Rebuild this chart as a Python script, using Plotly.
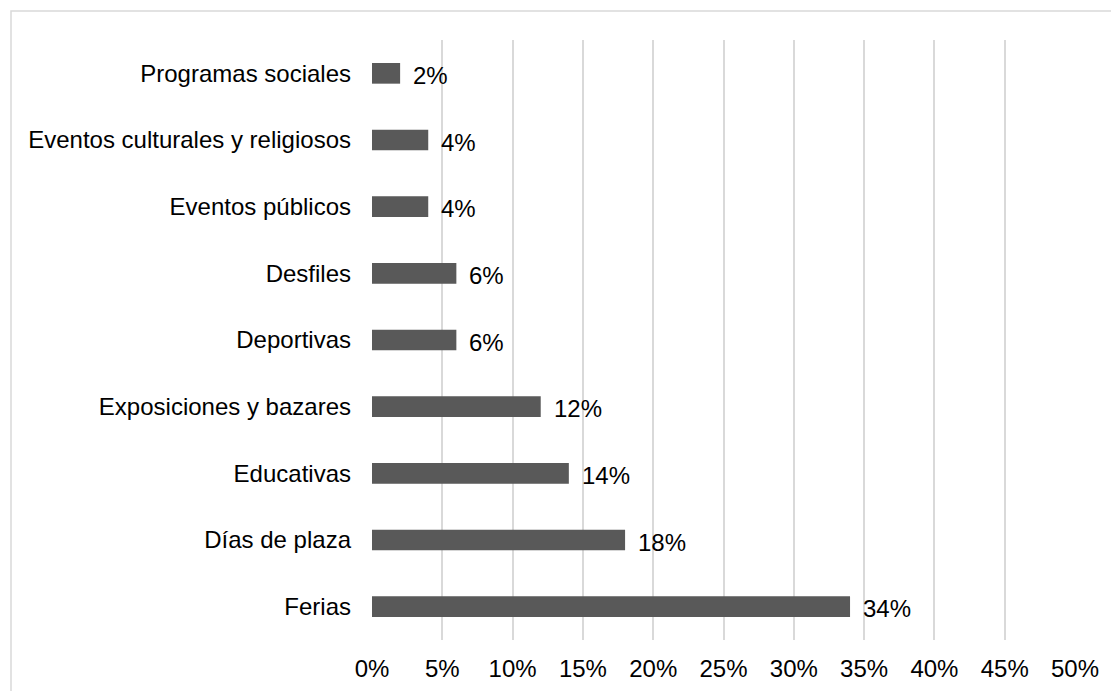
import plotly.graph_objects as go

categories = [
    "Ferias",
    "Días de plaza",
    "Educativas",
    "Exposiciones y bazares",
    "Deportivas",
    "Desfiles",
    "Eventos públicos",
    "Eventos culturales y religiosos",
    "Programas sociales",
]
values = [34, 18, 14, 12, 6, 6, 4, 4, 2]
tick_values = [0, 5, 10, 15, 20, 25, 30, 35, 40, 45, 50]
tick_labels = [f"{v}%" for v in tick_values]

W, H = 1111, 691
L, R, T, B = 372, 36, 40, 51
plot_w = W - L - R
plot_h = H - T - B

FONT = "Liberation Sans, Arial, sans-serif"
FS = 24

fig = go.Figure(
    go.Bar(
        x=values,
        y=categories,
        orientation="h",
        marker=dict(color="#595959", line=dict(width=0)),
        width=0.31,
        hoverinfo="x+y",
    )
)

# value labels to the right of each bar
for cat, v in zip(categories, values):
    fig.add_annotation(
        x=v, y=cat, text=f"{v}%", showarrow=False,
        xanchor="left", yanchor="middle", xshift=11, yshift=-2,
        font=dict(family=FONT, size=FS, color="#000000"),
    )

# outer chart border
def px_to_paper_x(px):
    return (px - L) / plot_w

def px_to_paper_y(py):
    return (H - B - py) / plot_h

fig.add_shape(
    type="rect", xref="paper", yref="paper",
    x0=px_to_paper_x(11), x1=px_to_paper_x(1125),
    y0=px_to_paper_y(705), y1=px_to_paper_y(11),
    line=dict(color="#d9d9d9", width=1.5), fillcolor="rgba(0,0,0,0)",
    layer="below",
)

fig.update_layout(
    template="none",
    width=W, height=H,
    margin=dict(l=L, r=R, t=T, b=B, autoexpand=False),
    paper_bgcolor="white", plot_bgcolor="white",
    showlegend=False,
    font=dict(family=FONT, size=FS, color="#000000"),
    xaxis=dict(
        range=[0, 50], tickvals=tick_values, ticktext=tick_labels,
        showgrid=True, gridcolor="#d9d9d9", gridwidth=1.5,
        zeroline=False, showline=False, ticks="",
        ticklabelstandoff=12, automargin=False, fixedrange=True,
    ),
    yaxis=dict(
        categoryorder="array", categoryarray=categories,
        showgrid=False, zeroline=False, showline=False, ticks="",
        ticklabelstandoff=20, automargin=False, fixedrange=True,
    ),
)

fig.write_html("out.html")
